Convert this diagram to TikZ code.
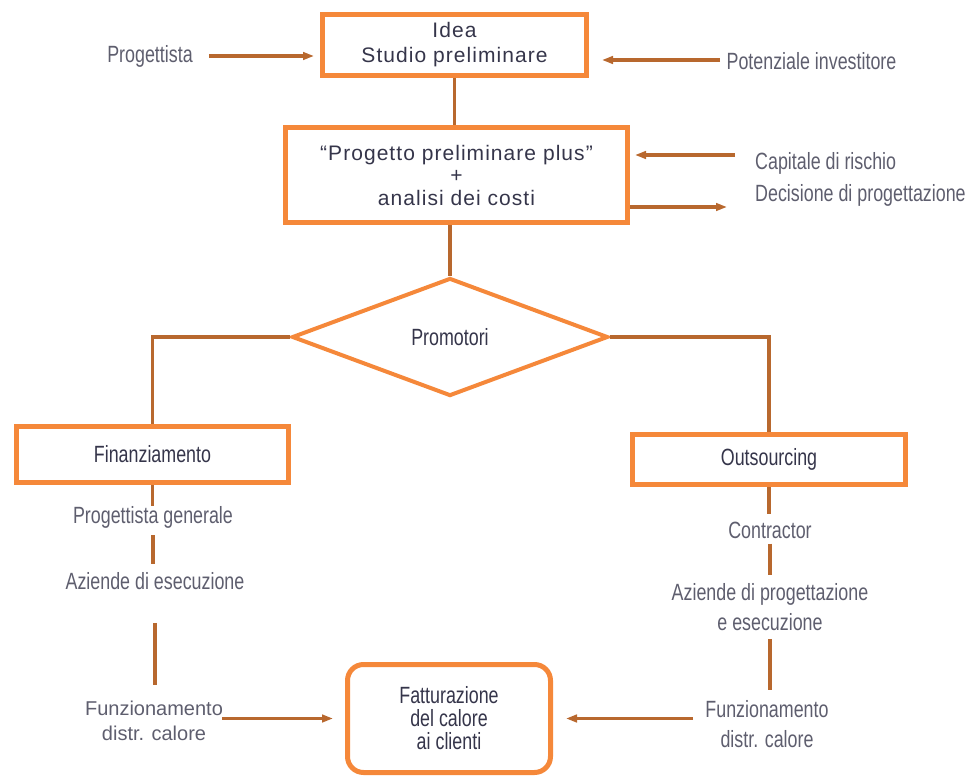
\documentclass[tikz,border=0pt]{standalone}
\usepackage{fontspec}
\setmainfont{Liberation Sans}
\newfontfamily\condf{Liberation Sans}[FakeStretch=0.76]
\newfontfamily\trackf{Liberation Sans}[LetterSpace=5]
\usetikzlibrary{arrows.meta,shapes.geometric}
\definecolor{boxor}{HTML}{F5883A}
\definecolor{connc}{HTML}{B8682E}
\definecolor{txtd}{HTML}{35354A}
\definecolor{txtl}{HTML}{5E5E6E}
\begin{document}
\begin{tikzpicture}[x=1pt,y=-1pt,
  obox/.style={draw=boxor,line width=5pt,rectangle,inner sep=0pt,align=center,text=txtd},
  cline/.style={draw=connc,line width=3.1pt},
  carrow/.style={cline,-{Triangle[length=11pt,width=7.5pt]}},
  lbl/.style={inner sep=0pt,align=center,text=txtl,font=\condf\fontsize{23.5}{30}\selectfont},
  lblw/.style={inner sep=0pt,align=center,text=txtl,font=\fontsize{20}{25}\selectfont}
]
\useasboundingbox (0,0) rectangle (972,779);

% main boxes
\node[obox,minimum width=264pt,minimum height=61pt,font=\trackf\fontsize{21}{25}\selectfont] (idea) at (454.5,45) {Idea\\Studio preliminare};
\node[obox,minimum width=342pt,minimum height=95pt,font=\trackf\fontsize{21}{22.5}\selectfont] (ppp) at (456.5,175) {“Progetto preliminare plus”\\+\\analisi dei costi};
\node[draw=boxor,line width=4pt,diamond,minimum width=316pt,minimum height=118pt,inner sep=0pt,text=txtd,font=\condf\fontsize{23.5}{26}\selectfont] (prom) at (450,337) {Promotori};
\node[obox,minimum width=272pt,minimum height=56pt,font=\condf\fontsize{23.5}{25}\selectfont] (fin) at (152.5,454.5) {Finanziamento};
\node[obox,minimum width=273pt,minimum height=50pt,font=\condf\fontsize{23.5}{25}\selectfont] (out) at (769,459.5) {Outsourcing};
\node[obox,rounded corners=16pt,minimum width=203pt,minimum height=108pt,font=\condf\fontsize{23.5}{23}\selectfont] (fat) at (449,718.5) {Fatturazione\\del calore\\ai clienti};

% side labels
\node[lbl] (prog) at (150,56) {Progettista};
\node[lbl] (pot) at (811.5,61) {Potenziale investitore};
\node[lbl,anchor=west] (cap) at (755,163) {Capitale di rischio};
\node[lbl,anchor=west] (dec) at (755,195) {Decisione di progettazione};

% left column labels
\node[lbl] (pgen) at (153,517) {Progettista generale};
\node[lbl] (azl) at (155,581) {Aziende di esecuzione};
\node[lblw] (funl) at (154,721) {Funzionamento\\distr. calore};

% right column labels
\node[lbl] (con) at (770,530) {Contractor};
\node[lbl] (azr) at (770,607) {Aziende di progettazione\\e esecuzione};
\node[lbl] (funr) at (767,724) {Funzionamento\\distr. calore};

% free ends
\coordinate (potout) at (720,60);
\coordinate (capin) at (735,155);
\coordinate (decout) at (727,207);
\coordinate (rin) at (693,718.5);
\coordinate (lout) at (222,718.5);

% arrows top
\draw[carrow,shorten <=16pt,shorten >=6pt] (prog.east) -- (prog.east -| idea.west);
\draw[carrow,shorten >=13pt] (potout) -- (potout -| idea.east);
\draw[carrow,shorten >=5pt] (capin) -- (capin -| ppp.east);
\draw[carrow] (decout -| ppp.east) -- (decout);

% vertical trunk
\draw[cline] (idea.south) -- (idea.south |- ppp.north);
\draw[cline] (prom.north |- ppp.south) -- (prom.north);

% branches
\draw[cline] (prom.west) -| (fin.north);
\draw[cline] (prom.east) -| (out.north);

% left column
\draw[cline] (fin.south) -- (fin.south |- pgen.north);
\draw[cline,shorten <=7pt,shorten >=8pt] (pgen.south) -- (pgen.south |- azl.north);
\draw[cline,shorten <=33pt,shorten >=16pt] (azl.south) -- (azl.south |- funl.north);

% right column
\draw[cline,shorten >=7pt] (out.south) -- (out.south |- con.north);
\draw[cline,shorten <=5pt,shorten >=8pt] (con.south) -- (con.south |- azr.north);
\draw[cline,shorten <=8pt,shorten >=10pt] (azr.south) -- (azr.south |- funr.north);

% bottom arrows
\draw[carrow,shorten >=12pt] (lout) -- (lout -| fat.west);
\draw[carrow,shorten >=13pt] (rin) -- (rin -| fat.east);
\end{tikzpicture}
\end{document}
